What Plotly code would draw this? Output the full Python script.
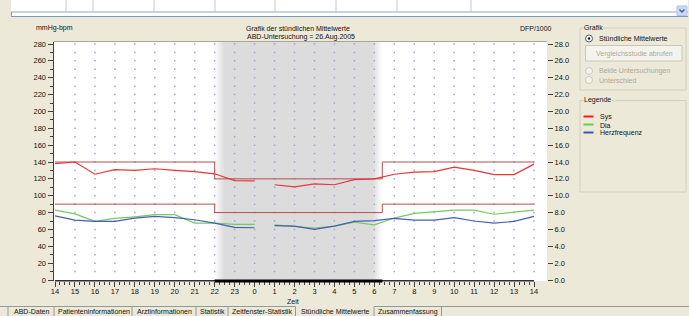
import numpy as np
import plotly.graph_objects as go

# ---------------- data ----------------
hour_labels = [14, 15, 16, 17, 18, 19, 20, 21, 22, 23, 0, 1, 2, 3, 4, 5, 6, 7, 8, 9, 10, 11, 12, 13, 14]
sys_vals = [138, 140, 125.5, 131, 130, 132, 130, 128.5, 126, 118, 117.5, 113, 110.5, 114, 113, 119, 120,
            125.5, 128, 128.5, 134, 130, 125, 125, 137.5]
dia_vals = [83, 78.5, 69.5, 73, 75, 77.5, 77.5, 67.5, 67.5, 66, 66, 65.5, 63.5, 61.5, 64, 68.5, 65.5,
            73.5, 79, 81, 83, 83, 78, 80.5, 83]
hr_vals = [76, 71, 69.5, 69.5, 73.5, 75.5, 74, 71.5, 67.5, 62.5, 62, 64.5, 64, 60, 64, 69.5, 70.5,
           73, 71, 71, 74, 70, 67.5, 69.5, 75.5]
gap_after_hour = 0          # no connection between 0 and 1 o'clock
night_start = 22
night_end = 6.4
sys_limit = [140, 120]      # day, night
dia_limit = [90, 80]        # day, night
left_ticks = list(range(0, 281, 20))
right_ticks = [v / 10 for v in left_ticks]
series_names = ["Sys", "Dia", "Herzfrequenz"]
series_colors = ["#E8353A", "#74C965", "#4560AE"]
legend_colors = ["#EE1C24", "#6CCB4F", "#3A58A8"]
tab_names = ["ABD-Daten", "Patienteninformationen", "Arztinformationen", "Statistik",
             "Zeitfenster-Statistik", "Stündliche Mittelwerte", "Zusammenfassung"]

# ---------------- geometry helpers ----------------
W, H = 689, 316
BG = "#ECE9D8"
FONT = "Liberation Sans, Arial, sans-serif"
px = lambda x: x / W
py = lambda y: 1 - y / H

x0_px, x24_px = 55, 534
kx = (x24_px - x0_px) / 24
plot_l, plot_r = 53.5, 547
xr = [-(x0_px - plot_l) / kx, (plot_r - x0_px) / kx]
y0_px, y280_px = 280, 44
ky = (y0_px - y280_px) / 280
plot_t, plot_b = 42, 281
yr = [-(plot_b - y0_px) / ky, (y0_px - plot_t) / ky]

def idx(h):
    return (h - hour_labels[0]) % 24

xi = list(range(len(hour_labels)))
gi = hour_labels.index(gap_after_hour)
ns, ne = idx(night_start), idx(night_end)

fig = go.Figure()

# grid dots
gx, gy = np.meshgrid(np.arange(1, 25), np.arange(10, 281, 10))
fig.add_trace(go.Scatter(x=gx.ravel(), y=gy.ravel(), mode="markers",
                         marker=dict(symbol="square", size=1.5, color="#A4A4CC", line=dict(width=0)),
                         hoverinfo="skip", showlegend=False))

# limit lines
for lim in (sys_limit, dia_limit):
    fig.add_trace(go.Scatter(x=[0, ns, ne, 24], y=[lim[0], lim[1], lim[0], lim[0]],
                             mode="lines", line=dict(color="#B4524E", width=1, shape="hv"),
                             showlegend=False, hoverinfo="skip"))

# series
for vals, col in zip((sys_vals, dia_vals, hr_vals), series_colors):
    for seg in (slice(0, gi + 1), slice(gi + 1, None)):
        fig.add_trace(go.Scatter(x=xi[seg], y=vals[seg], mode="lines",
                                 line=dict(color=col, width=1.2), showlegend=False))

shapes = []
# night shading with soft edges
shade = np.array([220, 220, 220])
white = np.array([255, 255, 255])
edge = 0.45
n = 9
shapes.append(dict(type="rect", xref="x", yref="paper", x0=ns + edge, x1=ne - edge,
                   y0=py(plot_b), y1=py(plot_t), fillcolor="rgb(220,220,220)", line_width=0, layer="below"))
for i in range(n):
    t = (i + 0.5) / n
    c = (white + (shade - white) * t).astype(int)
    col = f"rgb({c[0]},{c[1]},{c[2]})"
    a = ns + edge * i / n
    b = ne - edge * i / n
    shapes.append(dict(type="rect", xref="x", yref="paper", x0=a, x1=a + edge / n + 0.01,
                       y0=py(plot_b), y1=py(plot_t), fillcolor=col, line_width=0, layer="below"))
    shapes.append(dict(type="rect", xref="x", yref="paper", x0=b - edge / n - 0.01, x1=b,
                       y0=py(plot_b), y1=py(plot_t), fillcolor=col, line_width=0, layer="below"))

# top border of plot
shapes.append(dict(type="line", xref="paper", yref="paper", x0=px(plot_l), x1=px(plot_r),
                   y0=py(41.5), y1=py(41.5), line=dict(color="#A8A89A", width=1)))
# x axis line and night bar
shapes.append(dict(type="line", xref="x", yref="paper", x0=0, x1=24, y0=py(280.8), y1=py(280.8),
                   line=dict(color="#303030", width=1.6)))
shapes.append(dict(type="line", xref="x", yref="paper", x0=ns, x1=ne, y0=py(281), y1=py(281),
                   line=dict(color="#000000", width=3)))

# ---- top list view ----
shapes.append(dict(type="rect", xref="paper", yref="paper", x0=px(11), x1=px(688), y0=py(16.5), y1=py(0),
                   fillcolor="white", line_width=0))
for sx in [66, 93, 154, 215, 275, 336, 397, 471]:
    shapes.append(dict(type="line", xref="paper", yref="paper", x0=px(sx), x1=px(sx), y0=py(0), y1=py(11.5),
                       line=dict(color="#C8C8C8", width=1)))
shapes.append(dict(type="line", xref="paper", yref="paper", x0=px(11), x1=px(688), y0=py(12), y1=py(12),
                   line=dict(color="#8FA7C6", width=1)))
shapes.append(dict(type="line", xref="paper", yref="paper", x0=px(11), x1=px(688), y0=py(16.5), y1=py(16.5),
                   line=dict(color="#7F9DB9", width=1)))
shapes.append(dict(type="line", xref="paper", yref="paper", x0=px(11.5), x1=px(11.5), y0=py(12), y1=py(16.5),
                   line=dict(color="#7F9DB9", width=1)))
shapes.append(dict(type="rect", xref="paper", yref="paper", x0=px(677), x1=px(687), y0=py(15.5), y1=py(6),
                   fillcolor="#C8D8F8", line=dict(color="#B0C4EE", width=1)))
shapes.append(dict(type="path", xref="paper", yref="paper",
                   path=f"M {px(679.5)} {py(9.5)} L {px(682)} {py(12)} L {px(684.5)} {py(9.5)}",
                   line=dict(color="#4D6185", width=1.5)))

# ---- right panel group boxes ----
for (a, b, c, d) in [(580, 28, 686, 90), (580, 100.5, 686, 192)]:
    shapes.append(dict(type="rect", xref="paper", yref="paper", x0=px(a), x1=px(c), y0=py(d), y1=py(b),
                       line=dict(color="#D0D0BF", width=1), fillcolor="rgba(0,0,0,0)"))
# radios
for cy, on in [(38.5, True), (71, False), (80, False)]:
    shapes.append(dict(type="circle", xref="paper", yref="paper", x0=px(585.5), x1=px(592.5),
                       y0=py(cy + 3.5), y1=py(cy - 3.5), fillcolor="white" if on else "#F4F3EE",
                       line=dict(color="#4A5A6A" if on else "#CAC8BB", width=1)))
    if on:
        shapes.append(dict(type="circle", xref="paper", yref="paper", x0=px(587.8), x1=px(590.2),
                           y0=py(cy + 1.2), y1=py(cy - 1.2), fillcolor="#111111", line_width=0))
# disabled button
shapes.append(dict(type="rect", xref="paper", yref="paper", x0=px(585.5), x1=px(682), y0=py(61), y1=py(45.5),
                   fillcolor="#F5F4EC", line=dict(color="#C9C7BA", width=1)))
# legend swatches
for i, col in enumerate(legend_colors):
    yy = 116.5 + i * 8
    shapes.append(dict(type="line", xref="paper", yref="paper", x0=px(583.5), x1=px(593.5), y0=py(yy), y1=py(yy),
                       line=dict(color=col, width=2)))

# ---- bottom tabs ----
tab_edges = [8, 54, 132, 196, 228, 295.5, 374, 441.5]
sel = tab_names.index("Stündliche Mittelwerte")
shapes.append(dict(type="line", xref="paper", yref="paper", x0=0, x1=px(tab_edges[sel]), y0=py(306.5), y1=py(306.5),
                   line=dict(color="#919B9C", width=1)))
shapes.append(dict(type="line", xref="paper", yref="paper", x0=px(tab_edges[sel + 1]), x1=1, y0=py(306.5), y1=py(306.5),
                   line=dict(color="#919B9C", width=1)))
for i, e in enumerate(tab_edges):
    shapes.append(dict(type="line", xref="paper", yref="paper", x0=px(e), x1=px(e), y0=py(306.5), y1=py(316),
                       line=dict(color="#919B9C", width=1)))

annotations = []
def txt(x, y, s, size=7, color="#111111", anchor="center", bg=None):
    d = dict(x=px(x), y=py(y), xref="paper", yref="paper", text=s, showarrow=False,
             xanchor=anchor, yanchor="middle", font=dict(family=FONT, size=size, color=color))
    if bg:
        d["bgcolor"] = bg
        d["borderpad"] = 0
    annotations.append(d)

txt(54, 28, "mmHg-bpm")
txt(298, 28, "Grafik der stündlichen Mittelwerte")
txt(301, 37, "ABD-Untersuchung = 26.Aug.2005")
txt(536, 28, "DFP/1000")
txt(293, 301, "Zeit")
txt(583, 27.5, "Grafik", anchor="left", bg=BG)
txt(597, 38.5, "Stündliche Mittelwerte", anchor="left")
txt(634, 53.5, "Vergleichsstudie abrufen", color="#ACA899")
txt(597, 71, "Beide Untersuchungen", anchor="left", color="#ACA899")
txt(597, 80, "Unterschied", anchor="left", color="#ACA899")
txt(583, 100.5, "Legende", anchor="left", bg=BG)
for i, s in enumerate(series_names):
    txt(598, 117 + i * 8, s, anchor="left")
for i, s in enumerate(tab_names):
    txt((tab_edges[i] + tab_edges[i + 1]) / 2 + 0.5, 311.5, s)

axfont = dict(family=FONT, size=7.5, color="#111111")
fig.update_layout(
    template="none",
    width=W, height=H, margin=dict(l=0, r=0, t=0, b=0, pad=0, autoexpand=False),
    paper_bgcolor=BG, plot_bgcolor="white", showlegend=False,
    font=dict(family=FONT, size=7.5, color="#111111"),
    shapes=shapes, annotations=annotations,
    xaxis=dict(domain=[px(plot_l), px(plot_r)], range=xr, tickmode="array", tickvals=xi, automargin=False,
               ticktext=[str(h) for h in hour_labels], ticks="outside", ticklen=5, tickcolor="#404040",
               minor=dict(tickvals=[v for v in np.arange(0, 24.01, 0.25) if v % 1], ticks="outside",
                          ticklen=3, tickcolor="#404040"),
               ticklabelstandoff=-2,
               showgrid=False, zeroline=False, showline=False, tickfont=axfont, fixedrange=True),
    yaxis=dict(domain=[py(plot_b), py(plot_t)], range=yr, tickmode="array", tickvals=left_ticks, automargin=False,
               ticktext=[str(v) for v in left_ticks], ticks="outside", ticklen=5, tickcolor="#404040",
               minor=dict(dtick=10, tick0=0, ticks="outside", ticklen=3, tickcolor="#404040"),
               showgrid=False, zeroline=False, showline=True, linecolor="#404040", linewidth=1,
               tickfont=axfont, fixedrange=True),
    yaxis2=dict(overlaying="y", side="right", anchor="x", range=[v / 10 for v in yr], tickmode="array",
                automargin=False,
                tickvals=right_ticks, ticktext=[f"{v:.1f}" for v in right_ticks], ticks="outside",
                ticklen=5, tickcolor="#404040", showgrid=False, zeroline=False, showline=False,
                tickfont=axfont, fixedrange=True),
)
# dummy trace to activate right axis
fig.add_trace(go.Scatter(x=[None], y=[None], yaxis="y2", showlegend=False))

fig.write_html("out.html", config={"displayModeBar": False},
               post_script="document.body.style.margin='0px';document.body.style.padding='0px';"
                           "document.body.style.overflow='hidden';")
